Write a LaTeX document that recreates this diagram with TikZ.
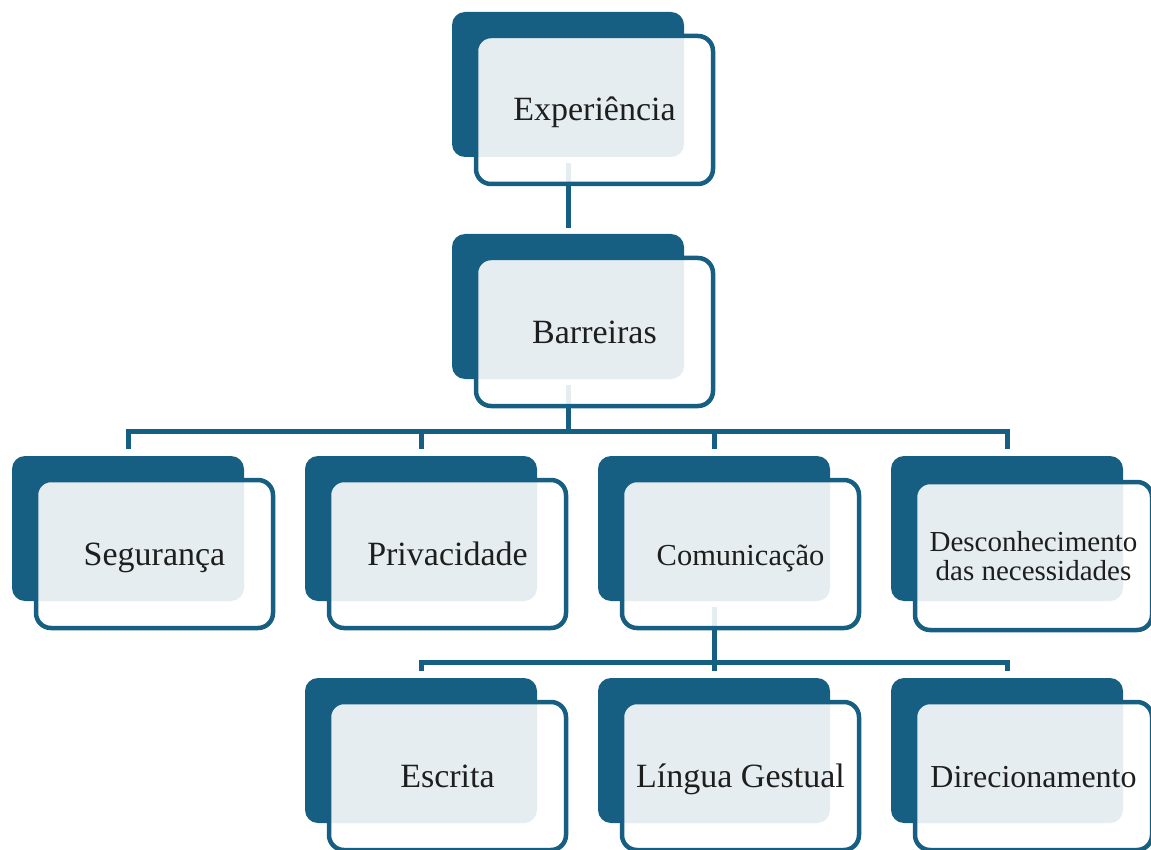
\documentclass[tikz,border=0pt]{standalone}
\usepackage{fontspec}
\setmainfont{Liberation Serif}
\definecolor{dk}{RGB}{23,95,130}
\definecolor{txt}{RGB}{30,30,30}
\pgfdeclarelayer{bg}
\pgfsetlayers{bg,main}
\begin{document}
\begin{tikzpicture}[x=1pt,y=-1pt,
 backbox/.style={rectangle,rounded corners=13pt,fill=dk,minimum width=232pt,minimum height=145pt,inner sep=0pt,outer sep=0pt},
 frontbox/.style={rectangle,rounded corners=15pt,draw=dk,line width=4.5pt,fill=white,fill opacity=0.89,draw opacity=1,text opacity=1,minimum width=237pt,minimum height=148pt,inner sep=0pt,outer sep=0pt,font=\fontsize{34}{36}\selectfont,text=txt,align=center},
 oneline/.style={text height=22pt,text depth=0pt},
 conn/.style={draw=dk,line width=5pt,line join=miter}]
\useasboundingbox (0,0) rectangle (1151,850);
\clip (0,0) rectangle (1151,850);
% level 0
\node[backbox] (expB) at (568,84.5) {};
\node[frontbox,oneline] (exp) at (594.5,110) {Experiência};
% level 1
\node[backbox] (barB) at (568,306.5) {};
\node[frontbox,oneline] (bar) at (594.5,332) {Barreiras};
% level 2
\node[backbox] (segB) at (128,528.5) {};
\node[frontbox,oneline] (seg) at (154.5,554) {Segurança};
\node[backbox] (priB) at (421,528.5) {};
\node[frontbox,oneline] (pri) at (447.5,554) {Privacidade};
\node[backbox] (comB) at (714,528.5) {};
\node[frontbox,oneline,font=\fontsize{30.5}{32}\selectfont] (com) at (740.5,554) {Comunicação};
\node[backbox] (desB) at (1007,528.5) {};
\node[frontbox,font=\fontsize{29}{29}\selectfont] (des) at (1033.5,556) {Desconhecimento\\das necessidades};
% level 3
\node[backbox] (escB) at (421,750.5) {};
\node[frontbox,oneline] (esc) at (447.5,776) {Escrita};
\node[backbox] (linB) at (714,750.5) {};
\node[frontbox,oneline] (lin) at (740.5,776) {Língua Gestual};
\node[backbox] (dirB) at (1007,750.5) {};
\node[frontbox,oneline,font=\fontsize{32}{34}\selectfont] (dir) at (1033.5,776) {Direcionamento};
\begin{pgfonlayer}{bg}
\coordinate (bus1) at (568,431);
\coordinate (bus2) at (714,662);
\draw[conn] ([yshift=-6pt]expB.south) -- ([yshift=6pt]barB.north);
\draw[conn] ([yshift=-6pt]barB.south) -- (bus1);
\draw[conn] ([yshift=7pt]segB.north) -- (segB.north |- bus1) -- (desB.north |- bus1) -- ([yshift=7pt]desB.north);
\draw[conn] (priB.north |- bus1) -- ([yshift=7pt]priB.north);
\draw[conn] (comB.north |- bus1) -- ([yshift=7pt]comB.north);
\draw[conn] ([yshift=-6pt]comB.south) -- (bus2);
\draw[conn] ([yshift=7pt]escB.north) -- (escB.north |- bus2) -- (dirB.north |- bus2) -- ([yshift=7pt]dirB.north);
\draw[conn] (linB.north |- bus2) -- ([yshift=7pt]linB.north);
\end{pgfonlayer}
\end{tikzpicture}
\end{document}
